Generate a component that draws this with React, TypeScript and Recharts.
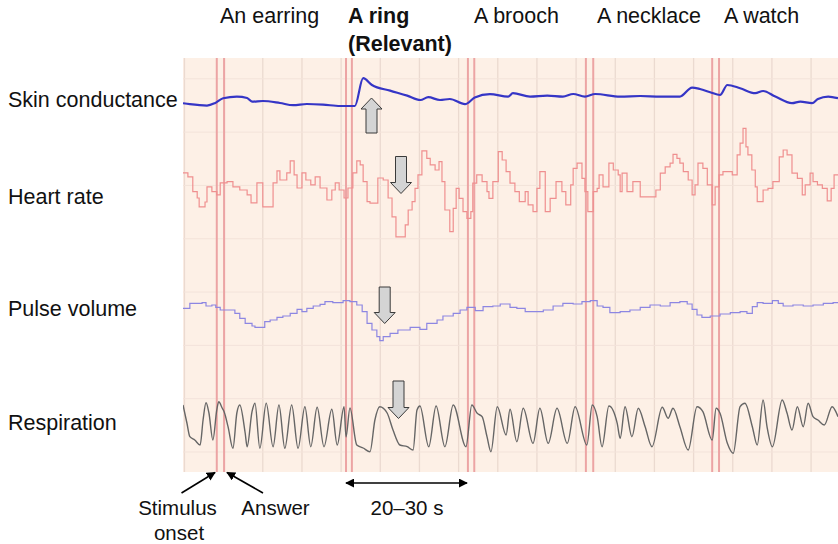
import { LineChart, Line, XAxis, YAxis, ReferenceLine } from "recharts";

// time axis in seconds; every series keeps its own sample times
const gridSec = [0, 8, 16, 24, 32, 40, 48, 56, 64, 72, 80, 88, 96, 104, 112, 120, 128];
const gridRows = [0, 1, 2, 3, 4, 5, 6, 7];

const onsetSec = [6.6, 33.0, 57.9, 82.0, 107.8];
const answerSec = [8.1, 34.2, 59.2, 83.5, 109.2];
const stimulusNames = ["An earring", "A ring", "A brooch", "A necklace", "A watch"];

// skin conductance, microsiemens
const scSec = [-0.3, 1.1, 4.6, 6.2, 7.9, 10.7, 12.8, 13.8, 16.0, 19.5, 22.2, 25.0, 28.3, 31.8, 34.8, 36.5, 38.3, 42.0, 45.5, 48.2, 49.8, 52.2, 54.2, 57.3, 59.3, 62.4, 66.1, 67.1, 70.6, 74.1, 77.3, 79.4, 81.8, 83.9, 89.0, 93.1, 97.2, 101.2, 103.7, 105.3, 107.4, 109.4, 110.9, 113.5, 116.6, 118.2, 120.7, 124.1, 125.8, 128.2, 129.4, 131.5, 133.5];
const scMicroS = [9.94, 9.89, 9.82, 9.94, 10.19, 10.27, 10.2, 10.02, 10.05, 9.95, 9.84, 9.9, 9.87, 9.8, 9.8, 11.19, 10.85, 10.57, 10.32, 10.1, 10.24, 10.1, 10.15, 9.89, 10.22, 10.39, 10.27, 10.44, 10.27, 10.32, 10.27, 10.4, 10.27, 10.4, 10.27, 10.3, 10.27, 10.27, 10.72, 10.65, 10.49, 10.35, 10.85, 10.69, 10.44, 10.55, 10.27, 9.94, 10.02, 9.94, 10.15, 10.27, 10.19];

// beat-to-beat heart rate, bpm (held until next beat)
const hrSec = [-0.3, 0.7, 1.7, 2.6, 3.0, 4.2, 4.6, 5.6, 6.6, 7.3, 8.7, 9.9, 11.3, 12.8, 13.6, 14.8, 16.0, 18.1, 18.9, 19.5, 20.9, 21.6, 22.4, 23.0, 24.0, 24.8, 25.8, 26.7, 27.7, 29.1, 30.1, 30.8, 31.6, 32.6, 33.4, 34.4, 35.2, 35.9, 36.5, 37.3, 37.9, 39.5, 40.6, 41.6, 42.4, 43.2, 45.1, 45.7, 46.5, 47.1, 47.7, 48.5, 49.5, 50.2, 51.2, 52.0, 52.6, 53.2, 54.2, 54.9, 55.5, 56.1, 56.9, 57.7, 58.5, 58.9, 59.7, 60.8, 61.8, 62.2, 63.0, 64.1, 64.9, 65.7, 66.5, 67.5, 68.4, 69.6, 70.2, 71.2, 72.0, 72.6, 73.7, 74.7, 75.9, 77.1, 77.9, 78.9, 79.4, 80.2, 81.2, 81.8, 82.4, 83.5, 84.3, 84.7, 85.5, 86.7, 87.6, 88.6, 89.0, 89.4, 90.4, 91.6, 93.1, 96.3, 97.2, 98.2, 99.2, 99.8, 100.6, 101.2, 101.9, 102.9, 103.7, 104.3, 104.9, 105.9, 106.8, 107.8, 108.4, 109.2, 110.0, 111.9, 112.9, 113.5, 114.1, 114.7, 115.1, 115.9, 116.6, 117.0, 118.2, 119.2, 120.2, 121.5, 122.3, 123.1, 124.1, 125.2, 126.2, 126.8, 127.8, 128.4, 129.3, 130.3, 131.3, 132.1, 132.7, 133.5];
const hrBpm = [76.3, 75.3, 71.6, 70.0, 67.8, 69.0, 72.8, 71.6, 70.8, 73.8, 74.1, 72.8, 72.0, 70.8, 68.8, 73.8, 67.8, 73.8, 76.8, 74.5, 76.3, 79.3, 75.8, 72.5, 76.3, 74.5, 73.3, 75.3, 72.5, 69.5, 72.0, 73.8, 72.0, 70.0, 72.5, 76.3, 79.3, 78.3, 74.1, 69.1, 68.7, 75.0, 74.5, 70.0, 65.3, 60.3, 63.3, 67.0, 69.1, 72.4, 75.8, 81.8, 79.9, 78.3, 77.0, 79.1, 74.1, 67.0, 61.6, 67.4, 72.4, 69.9, 66.6, 64.9, 66.6, 73.7, 75.8, 74.1, 71.6, 69.9, 74.1, 81.6, 79.5, 76.6, 73.7, 71.6, 69.1, 71.6, 68.3, 66.6, 72.4, 76.6, 66.6, 69.9, 74.1, 71.6, 68.3, 73.3, 77.4, 78.7, 74.9, 71.6, 66.6, 71.6, 72.4, 75.8, 72.8, 78.7, 77.0, 75.8, 71.6, 76.2, 71.6, 74.1, 70.3, 72.0, 76.2, 77.8, 78.7, 80.9, 79.9, 78.7, 76.6, 74.5, 70.8, 73.3, 78.7, 77.4, 73.3, 68.3, 72.8, 75.8, 76.6, 75.8, 80.8, 83.7, 87.4, 82.8, 80.8, 77.0, 72.8, 69.1, 72.0, 72.4, 74.1, 80.3, 82.0, 80.8, 76.2, 74.9, 70.8, 73.3, 76.2, 74.1, 73.3, 72.4, 69.3, 72.4, 75.8, 75.8];

// finger pulse volume, arbitrary units
const pvSec = [-0.3, 1.1, 3.6, 4.4, 5.6, 6.4, 7.3, 10.3, 11.3, 12.4, 13.8, 14.4, 16.4, 17.5, 18.9, 20.1, 21.6, 23.0, 24.0, 25.0, 26.3, 27.7, 28.7, 30.3, 32.4, 33.8, 35.2, 36.3, 37.3, 38.3, 39.3, 39.9, 40.6, 42.0, 43.6, 46.1, 48.1, 49.5, 51.6, 52.8, 54.9, 56.3, 57.7, 59.4, 61.0, 63.0, 64.5, 66.5, 67.9, 69.6, 71.2, 73.3, 75.3, 77.3, 79.4, 81.2, 82.9, 84.3, 85.5, 86.9, 89.0, 91.0, 93.1, 95.1, 97.2, 99.2, 101.2, 102.7, 103.7, 104.7, 105.7, 107.4, 109.4, 111.5, 113.5, 114.9, 116.0, 117.0, 118.2, 120.1, 121.3, 122.3, 124.3, 126.4, 128.4, 130.5, 132.5, 133.5];
const pvUnits = [5.17, 5.67, 5.73, 5.4, 5.5, 5.27, 5.0, 4.67, 4.17, 3.67, 3.4, 3.27, 3.83, 4.0, 4.27, 4.4, 4.67, 5.07, 4.83, 5.17, 5.4, 5.57, 5.83, 5.73, 5.93, 5.83, 5.5, 4.83, 3.67, 3.0, 2.33, 1.93, 2.33, 2.67, 3.0, 3.27, 3.07, 3.67, 4.0, 4.4, 4.67, 5.0, 5.27, 4.93, 5.33, 5.4, 5.6, 5.27, 5.17, 4.83, 4.83, 5.0, 5.4, 5.67, 5.6, 5.83, 5.93, 5.4, 5.27, 4.73, 4.83, 5.0, 5.27, 5.5, 5.4, 5.73, 5.83, 5.6, 5.07, 4.5, 4.27, 4.4, 4.6, 4.73, 4.83, 4.67, 5.33, 5.73, 5.67, 5.93, 5.67, 5.4, 5.5, 5.4, 5.5, 5.67, 5.73, 5.77];

// respiration belt, arbitrary units
const respSec = [-0.3, 0.5, 1.1, 2.1, 3.2, 3.8, 4.4, 5.0, 5.8, 6.6, 7.0, 7.7, 8.1, 8.9, 9.9, 10.7, 11.3, 12.4, 12.8, 13.8, 14.4, 15.4, 16.7, 18.1, 19.3, 20.5, 21.9, 23.2, 24.6, 25.8, 27.1, 28.5, 30.1, 31.2, 32.6, 33.0, 33.8, 35.2, 36.5, 37.9, 38.9, 39.9, 41.4, 42.6, 44.0, 45.5, 46.7, 47.5, 48.1, 49.9, 51.4, 53.2, 54.9, 57.5, 58.7, 59.8, 60.8, 61.8, 62.6, 63.9, 65.7, 66.5, 67.9, 69.2, 71.2, 72.6, 74.3, 76.1, 78.2, 79.8, 82.2, 83.3, 84.3, 85.3, 86.7, 88.4, 89.0, 90.0, 91.4, 92.7, 94.1, 95.5, 97.6, 98.8, 99.8, 101.2, 102.9, 104.7, 105.9, 107.8, 108.6, 109.4, 110.9, 112.1, 113.5, 114.5, 116.0, 117.0, 118.2, 119.0, 120.1, 122.1, 123.1, 124.1, 125.2, 126.4, 127.4, 128.4, 129.4, 130.7, 132.3, 133.5];
const respUnits = [2.5, 0.7, -0.67, -1.0, -1.5, 1.0, 2.73, 1.7, -1.0, 2.0, 2.83, 2.2, 1.83, 0.33, -1.83, 1.7, 2.5, -0.3, -1.67, 1.83, 2.67, -1.83, 2.67, -1.67, 2.5, -1.83, 2.5, -1.83, 2.33, -1.67, 2.27, -1.67, 2.07, -1.5, 2.33, -0.7, 2.2, -1.5, -1.8, -2.17, 1.0, 2.33, 1.7, 0.0, -1.5, -1.67, -2.0, 2.0, 2.4, -1.67, 2.4, -1.67, 2.5, -1.67, 2.5, 1.67, 1.33, -0.67, -2.17, 2.33, -0.5, 2.07, -1.17, 2.17, -1.33, 2.17, -1.33, 2.17, -1.33, 2.33, -1.5, 2.5, 1.33, -1.67, 2.4, 0.67, -0.83, 2.33, -0.67, 2.17, 0.33, -1.67, 2.27, 1.17, 2.17, 0.33, -2.0, 2.33, 1.83, -1.0, 2.17, 1.67, -1.33, -2.33, 2.33, 2.67, 0.33, -1.5, 3.0, 0.33, -1.67, 3.0, 1.67, 0.0, 2.33, 0.33, 2.67, 1.33, 1.0, 0.5, 2.33, 1.33];

const zip = (t: number[], v: number[]) => t.map((s, i) => ({ t: s, v: v[i] }));
const scData = zip(scSec, scMicroS);
const hrData = zip(hrSec, hrBpm);
const pvData = zip(pvSec, pvUnits);
const respData = zip(respSec, respUnits);

const FONT = "'Liberation Sans', Arial, Helvetica, sans-serif";
const FS = 21.5;

type Arrow = { cx: number; from: number; to: number };
// block arrows: from = tail end, to = tip
const blockArrows: Arrow[] = [
  { cx: 371.5, from: 133, to: 98 },
  { cx: 401, from: 156.5, to: 193.5 },
  { cx: 384.7, from: 287, to: 323.5 },
  { cx: 398.5, from: 381, to: 418.5 },
];

function blockArrowPoints({ cx, from, to }: Arrow) {
  const dir = to > from ? 1 : -1;
  const head = 11;
  const hw = 10.5;
  const sw = 5.5;
  const base = to - dir * head;
  return [
    [cx, to], [cx + hw, base], [cx + sw, base], [cx + sw, from],
    [cx - sw, from], [cx - sw, base], [cx - hw, base],
  ].map((p) => p.join(",")).join(" ");
}

function Overlay() {
  const rowLabels: [string, number][] = [
    ["Skin conductance", 107],
    ["Heart rate", 204],
    ["Pulse volume", 316],
    ["Respiration", 430],
  ];
  const titleX = [220, 348, 474, 597, 724];
  return (
    <svg width={838} height={544} style={{ position: "absolute", left: 0, top: 0, overflow: "visible" }}>
      <defs>
        <marker id="ah" viewBox="0 0 10 10" refX="9" refY="5" markerWidth="9" markerHeight="9" orient="auto-start-reverse" markerUnits="userSpaceOnUse">
          <path d="M0,0 L10,5 L0,10 z" fill="#000" />
        </marker>
      </defs>
      <g fontFamily={FONT} fontSize={FS} fill="#111">
        {stimulusNames.map((n, i) => (
          <text key={n} x={titleX[i]} y={22.5} fontWeight={i === 1 ? "bold" : "normal"}>{n}</text>
        ))}
        <text x={348} y={50.5} fontWeight="bold">(Relevant)</text>
        {rowLabels.map(([s, y]) => (
          <text key={s} x={8} y={y}>{s}</text>
        ))}
      </g>
      <g fontFamily={FONT} fontSize={20.5} fill="#111">
        <text x={177.5} y={515} textAnchor="middle">Stimulus</text>
        <text x={179} y={539.5} textAnchor="middle">onset</text>
        <text x={275.5} y={515} textAnchor="middle">Answer</text>
        <text x={407} y={515} textAnchor="middle">20–30 s</text>
      </g>
      {blockArrows.map((a, i) => (
        <polygon key={i} points={blockArrowPoints(a)} fill="#d4d4d4" stroke="#3a3a3a" strokeWidth={1} strokeLinejoin="miter" />
      ))}
      <g stroke="#000" strokeWidth={1.6}>
        <line x1={181.5} y1={493} x2={215} y2={472.5} markerEnd="url(#ah)" />
        <line x1={263} y1={493} x2={227} y2={472.5} markerEnd="url(#ah)" />
        <line x1={346} y1={483} x2={467} y2={483} markerStart="url(#ah)" markerEnd="url(#ah)" />
      </g>
    </svg>
  );
}

export default function App() {
  return (
    <div style={{ position: "absolute", left: 0, top: 0, width: 838, height: 544, background: "#fff" }}>
      <div style={{ position: "absolute", left: 183, top: 58, width: 655, height: 414, background: "#fdf0e6" }}>
        <LineChart width={655} height={414} data={scData} margin={{ top: 0, right: 0, bottom: 0, left: 0 }}>
          <XAxis dataKey="t" type="number" domain={[-0.3, 133.5]} allowDataOverflow hide />
          <YAxis yAxisId="grid" type="number" domain={[7.39, -0.375]} hide allowDataOverflow />
          <YAxis yAxisId="sc" type="number" domain={[-8.5, 12.2]} hide allowDataOverflow />
          <YAxis yAxisId="hr" type="number" domain={[1.5, 105]} hide allowDataOverflow />
          <YAxis yAxisId="pv" type="number" domain={[-11.2, 30.2]} hide allowDataOverflow />
          <YAxis yAxisId="resp" type="number" domain={[-4.2, 37.2]} hide allowDataOverflow />
          {gridSec.map((s) => (
            <ReferenceLine key={"gx" + s} x={s} yAxisId="grid" stroke="#ebdad0" strokeWidth={1.3} />
          ))}
          {gridRows.map((r) => (
            <ReferenceLine key={"gy" + r} y={7.015 - r} yAxisId="grid" stroke="#f3e3da" strokeWidth={1} />
          ))}
          {onsetSec.map((s) => (
            <ReferenceLine key={"on" + s} x={s} yAxisId="grid" stroke="#eca4a4" strokeWidth={2} />
          ))}
          {answerSec.map((s) => (
            <ReferenceLine key={"an" + s} x={s} yAxisId="grid" stroke="#eca4a4" strokeWidth={2} />
          ))}
          <Line yAxisId="sc" data={scData} dataKey="v" type="monotone" stroke="#3535c6" strokeWidth={2.2} dot={false} isAnimationActive={false} />
          <Line yAxisId="hr" data={hrData} dataKey="v" type="stepAfter" stroke="#ef8f8f" strokeWidth={1.2} dot={false} isAnimationActive={false} />
          <Line yAxisId="pv" data={pvData} dataKey="v" type="stepAfter" stroke="#8d86e2" strokeWidth={1.2} dot={false} isAnimationActive={false} />
          <Line yAxisId="resp" data={respData} dataKey="v" type="monotone" stroke="#666666" strokeWidth={1.4} dot={false} isAnimationActive={false} />
        </LineChart>
      </div>
      <Overlay />
    </div>
  );
}
